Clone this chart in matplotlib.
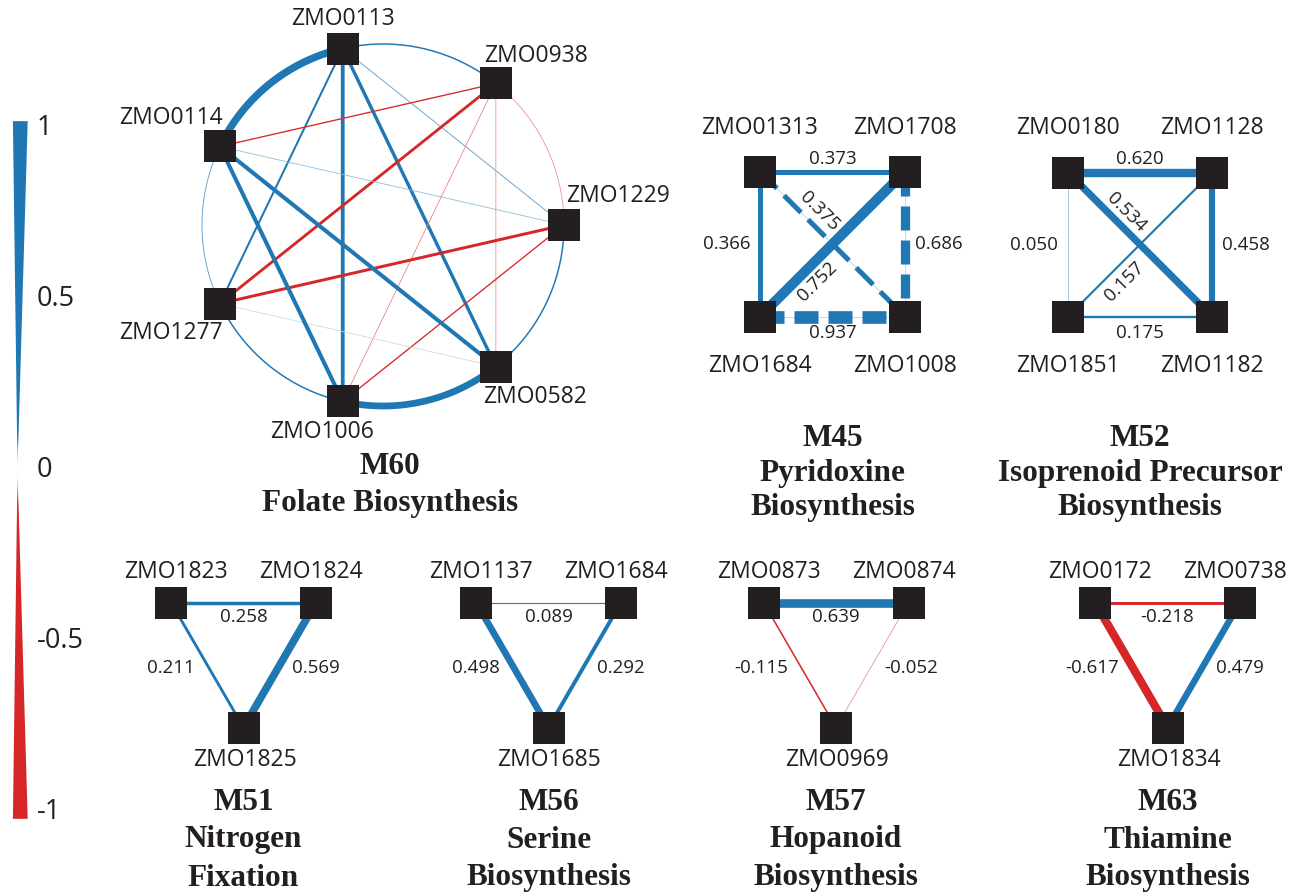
import numpy as np
import matplotlib.pyplot as plt
from matplotlib.colors import LinearSegmentedColormap, to_rgb
from matplotlib.patches import Polygon

# canvas in pixel units
W, H = 1303, 892
PX = 72 / 100  # points per pixel at dpi=100

BLUE = '#1f77b4'
RED = '#d62728'
INK = '#231f20'
SANS = 'Open Sans'
SERIF = 'Liberation Serif'
GENE_FS = 16.5
VAL_FS = 13.5

# ---- data -------------------------------------------------------------
# M60: ring of 7 genes, edges as (source, target, correlation)
m60_genes = ['ZMO0113', 'ZMO0938', 'ZMO1229', 'ZMO0582', 'ZMO1006', 'ZMO1277', 'ZMO0114']
m60_src = [0, 1, 2, 3, 4, 5, 6, 0, 0, 0, 0, 1, 1, 1, 1, 2, 2, 2, 3, 3, 4]
m60_dst = [1, 2, 3, 4, 5, 6, 0, 2, 3, 4, 5, 3, 4, 5, 6, 4, 5, 6, 5, 6, 6]
m60_r = [0.11, -0.05, 0.11, 0.50, 0.11, 0.07, 0.55,
         0.07, 0.25, 0.28, 0.15, -0.05, -0.06, -0.21, -0.10,
         -0.10, -0.22, 0.05, 0.03, 0.30, 0.30]

# square modules: nodes top-left, top-right, bottom-left, bottom-right
m45_genes = ['ZMO01313', 'ZMO1708', 'ZMO1684', 'ZMO1008']
m45_src = [0, 0, 1, 0, 1, 2]
m45_dst = [1, 2, 2, 3, 3, 3]
m45_r = [0.373, 0.366, 0.752, 0.375, 0.686, 0.937]
m45_dashed = [False, False, False, True, True, True]

m52_genes = ['ZMO0180', 'ZMO1128', 'ZMO1851', 'ZMO1182']
m52_src = [0, 0, 1, 2, 0, 1]
m52_dst = [1, 2, 3, 3, 3, 2]
m52_r = [0.620, 0.050, 0.458, 0.175, 0.534, 0.157]

# triangle modules: nodes top-left, top-right, bottom
tri_src = [0, 0, 1]
tri_dst = [1, 2, 2]
m51_genes = ['ZMO1823', 'ZMO1824', 'ZMO1825']
m51_r = [0.258, 0.211, 0.569]
m56_genes = ['ZMO1137', 'ZMO1684', 'ZMO1685']
m56_r = [0.089, 0.498, 0.292]
m57_genes = ['ZMO0873', 'ZMO0874', 'ZMO0969']
m57_r = [0.639, -0.115, -0.052]
m63_genes = ['ZMO0172', 'ZMO0738', 'ZMO1834']
m63_r = [-0.218, -0.617, 0.479]

titles = {
    'M60': ['M60', 'Folate Biosynthesis'],
    'M45': ['M45', 'Pyridoxine', 'Biosynthesis'],
    'M52': ['M52', 'Isoprenoid Precursor', 'Biosynthesis'],
    'M51': ['M51', 'Nitrogen', 'Fixation'],
    'M56': ['M56', 'Serine', 'Biosynthesis'],
    'M57': ['M57', 'Hopanoid', 'Biosynthesis'],
    'M63': ['M63', 'Thiamine', 'Biosynthesis'],
}

cbar_ticks = [1, 0.5, 0, -0.5, -1]
cbar_labels = ['1', '0.5', '0', '-0.5', '-1']

# ---- styling ----------------------------------------------------------
cmap = LinearSegmentedColormap.from_list(
    'corr', [(0, RED), (0.45, RED), (0.5, 'white'), (0.55, BLUE), (1, BLUE)])


def edge_color(r):
    return cmap((r + 1) / 2)


def edge_width(r):
    return max(13.5 * abs(r), 0.8) * PX


def lighten(c, f):
    c = np.array(to_rgb(c))
    return tuple(c + (1 - c) * f)


fig = plt.figure(figsize=(W / 100, H / 100), dpi=100)
ax = fig.add_axes([0, 0, 1, 1])
ax.set_xlim(0, W)
ax.set_ylim(H, 0)
ax.axis('off')


def draw_nodes(pos):
    xs, ys = zip(*pos)
    ax.scatter(xs, ys, marker='s', s=510, color=INK, linewidths=0, zorder=5)


def draw_title(lines, x, y, step):
    for i, t in enumerate(lines):
        ax.text(x, y + i * step, t, ha='center', va='center', fontsize=22.5,
                fontweight='bold', family=SERIF, color=INK)


def straight_edge(p, q, r, dashed=False):
    if dashed:
        # faint base line under the dashes
        ax.plot([p[0], q[0]], [p[1], q[1]], color=lighten(edge_color(r), 0.7),
                lw=0.9 * PX, zorder=2)
        lw = edge_width(r)
        ax.plot([p[0], q[0]], [p[1], q[1]], color=edge_color(r), lw=lw,
                linestyle=(0, (24 * PX / lw, 10 * PX / lw)),
                dash_capstyle='butt', zorder=3)
    else:
        ax.plot([p[0], q[0]], [p[1], q[1]], color=edge_color(r),
                lw=edge_width(r), solid_capstyle='butt', zorder=3)


# ---- M60 ring ---------------------------------------------------------
ring_c = (383, 225)
ring_rad = 181
n = len(m60_genes)
ang = np.deg2rad(102.86 - 360 / n * np.arange(n))
m60_pos = [(ring_c[0] + ring_rad * np.cos(a), ring_c[1] - ring_rad * np.sin(a)) for a in ang]

for s, d, r in zip(m60_src, m60_dst, m60_r):
    if (d - s) % n == 1:
        # neighbours are joined along the ring
        a0 = ang[s]
        a1 = a0 - 2 * np.pi / n
        t = np.linspace(a0, a1, 60)
        ax.plot(ring_c[0] + ring_rad * np.cos(t), ring_c[1] - ring_rad * np.sin(t),
                color=edge_color(r), lw=edge_width(r), solid_capstyle='butt', zorder=3)
    else:
        straight_edge(m60_pos[s], m60_pos[d], r)
draw_nodes(m60_pos)

m60_lab = [(0, -30, 'center'), (-12, -27, 'left'), (2, -29, 'left'), (-13, 30, 'left'),
           (-21, 31, 'center'), (3, 29, 'right'), (3, -28, 'right')]
for (x, y), g, (dx, dy, ha) in zip(m60_pos, m60_genes, m60_lab):
    ax.text(x + dx, y + dy, g, ha=ha, va='center', fontsize=GENE_FS, family=SANS, color=INK)
draw_title(titles['M60'], 390, 467, 37)


# ---- square modules ---------------------------------------------------
def square_panel(cx, cy, side, genes, src, dst, vals, dashed=None, key=None):
    h = side / 2
    pos = [(cx - h, cy - h), (cx + h, cy - h), (cx - h, cy + h), (cx + h, cy + h)]
    dashed = dashed or [False] * len(vals)
    for s, d, r, ds in zip(src, dst, vals, dashed):
        straight_edge(pos[s], pos[d], r, ds)
        p, q = np.array(pos[s]), np.array(pos[d])
        lab = f'{r:.3f}'
        kw = dict(fontsize=VAL_FS, family=SANS, color=INK, zorder=6)
        pair = (s, d)
        if pair == (0, 1):
            ax.text(cx, cy - h - 13, lab, ha='center', va='center', **kw)
        elif pair == (2, 3):
            ax.text(cx, cy + h + 16, lab, ha='center', va='center', **kw)
        elif pair == (0, 2):
            ax.text(cx - h - 10, cy, lab, ha='right', va='center', **kw)
        elif pair == (1, 3):
            ax.text(cx + h + 10, cy, lab, ha='left', va='center', **kw)
        elif pair == (0, 3):
            m = p + 0.38 * (q - p)
            ax.text(m[0] + 4, m[1] - 15, lab, ha='center', va='center',
                    rotation=-45, rotation_mode='anchor', **kw)
        else:
            m = np.array(pos[2]) + 0.38 * (np.array(pos[1]) - np.array(pos[2]))
            ax.text(m[0] + 2, m[1] + 20, lab, ha='center', va='center',
                    rotation=45, rotation_mode='anchor', **kw)
    draw_nodes(pos)
    for i, ((x, y), g) in enumerate(zip(pos, genes)):
        dy = -44 if i < 2 else 50
        ax.text(x, y + dy, g, ha='center', va='center', fontsize=GENE_FS, family=SANS, color=INK)
    draw_title(titles[key], cx, 438, 35)


square_panel(832.5, 244, 145, m45_genes, m45_src, m45_dst, m45_r, m45_dashed, 'M45')
square_panel(1140, 244.5, 144, m52_genes, m52_src, m52_dst, m52_r, key='M52')


# ---- triangle modules -------------------------------------------------
def triangle_panel(cx, genes, vals, key):
    top, bot, half = 602.5, 727.5, 72.5
    pos = [(cx - half, top), (cx + half, top), (cx, bot)]
    for s, d, r in zip(tri_src, tri_dst, vals):
        straight_edge(pos[s], pos[d], r)
        mx = (pos[s][0] + pos[d][0]) / 2
        my = (pos[s][1] + pos[d][1]) / 2
        lab = f'{r:.3f}'
        kw = dict(fontsize=VAL_FS, family=SANS, color=INK, va='center', zorder=6)
        if (s, d) == (0, 1):
            ax.text(mx, my + 14, lab, ha='center', **kw)
        elif (s, d) == (0, 2):
            ax.text(mx - 12, my + 3, lab, ha='right', **kw)
        else:
            ax.text(mx + 12, my + 3, lab, ha='left', **kw)
    draw_nodes(pos)
    offs = [(5, -31), (-5, -31), (1, 32)]
    for (x, y), g, (dx, dy) in zip(pos, genes, offs):
        ax.text(x + dx, y + dy, g, ha='center', va='center', fontsize=GENE_FS, family=SANS, color=INK)
    draw_title(titles[key], cx, 802, 38)


triangle_panel(243.5, m51_genes, m51_r, 'M51')
triangle_panel(548.5, m56_genes, m56_r, 'M56')
triangle_panel(836, m57_genes, m57_r, 'M57')
triangle_panel(1167.5, m63_genes, m63_r, 'M63')


# ---- colour / width key ----------------------------------------------
def key_y(v):
    return 470 - 342 * v


v = np.linspace(1.02, -1.02, 200)
left = 13 + 4.5 * (1 - np.abs(v))
right = left + 14.5 * np.abs(v)
outline = list(zip(right, key_y(v))) + list(zip(left[::-1], key_y(v[::-1])))
wedge = Polygon(outline, closed=True, transform=ax.transData, facecolor='none', edgecolor='none')
ax.add_patch(wedge)
grad = np.linspace(1.02, -1.02, 400)[:, None]
im = ax.imshow(grad, cmap=cmap, vmin=-1, vmax=1, aspect='auto', interpolation='bilinear',
               extent=(10, 32, key_y(-1.02), key_y(1.02)), zorder=2)
im.set_clip_path(wedge)
for t, lab in zip(cbar_ticks, cbar_labels):
    ax.text(37, key_y(t), lab, ha='left', va='center', fontsize=19.5, family=SANS, color=INK)

ax.set_xlim(0, W)
ax.set_ylim(H, 0)
fig.savefig('out.png', dpi=100, facecolor='white')
plt.close(fig)
